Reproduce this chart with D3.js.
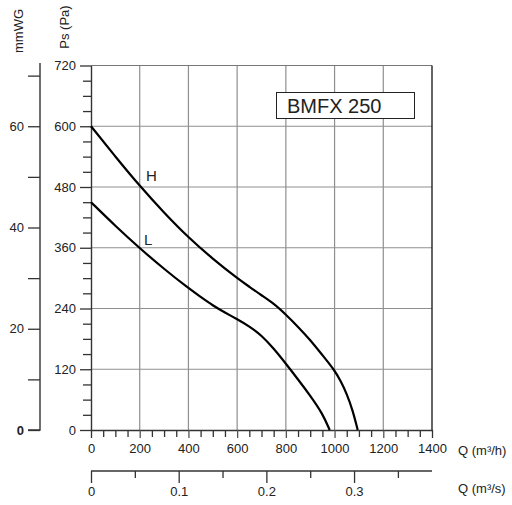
<!DOCTYPE html>
<html><head><meta charset="utf-8">
<script src="https://cdn.jsdelivr.net/npm/d3@7"></script>
<style>
body{margin:0;background:#fff;}
text{font-family:"Liberation Sans",Arial,sans-serif;fill:#222;}
</style></head>
<body><svg id="c" width="512" height="505"></svg>
<script>
// Data
const qH = [0,100,200,300,400,500,600,650,700,750,800,850,900,950,1000,1025,1050,1075,1095];
const psH = [600,540,482,429,380,338,300,283,266,250,228,204,178,148,118,97,72,38,0];
const qL = [0,100,200,300,400,450,500,550,600,650,700,750,800,850,900,950,980];
const psL = [450,403,359,318,280,263,246,232,219,205,187,161,131,100,68,33,0];
const qTicks = [0,200,400,600,800,1000,1200,1400];
const psTicks = [0,120,240,360,480,600,720];
const mmTicks = [0,20,40,60];
const qsTicks = [0,0.1,0.2,0.3];
const modelName = "BMFX 250";

const svg = d3.select("#c");
const x = d3.scaleLinear().domain([0,1400]).range([91,432]);
const y = d3.scaleLinear().domain([0,720]).range([430,65.5]);
const ymm = d3.scaleLinear().domain([0,72]).range([430,65.5]);
const xs = d3.scaleLinear().domain([0,1400/3600]).range([91,432]);

// grid
const grid = svg.append("g").attr("stroke","#8f8f8f").attr("stroke-width",1.2);
qTicks.filter(v=>v>0&&v<1400).forEach(v=>grid.append("line").attr("x1",x(v)).attr("x2",x(v)).attr("y1",y(720)).attr("y2",y(0)));
psTicks.filter(v=>v>0&&v<720).forEach(v=>grid.append("line").attr("x1",x(0)).attr("x2",x(1400)).attr("y1",y(v)).attr("y2",y(v)));
grid.append("line").attr("x1",x(0)).attr("x2",x(1400)).attr("y1",y(720)).attr("y2",y(720)).attr("stroke","#777");
svg.append("line").attr("x1",x(1400)).attr("x2",x(1400)).attr("y1",y(720)).attr("y2",y(0)).attr("stroke","#111").attr("stroke-width",1.3);

function styleAxis(g){
  g.selectAll("path.domain").attr("stroke","#333").attr("stroke-width",1.4);
  g.selectAll(".tick line").attr("stroke","#333").attr("stroke-width",1.3);
  g.selectAll(".tick text").attr("font-size",13).attr("font-family","Liberation Sans, Arial, sans-serif").attr("fill","#222");
}

// Ps axis
const minorPs = d3.range(0,721,30).filter(v=>v%120!==0);
const gPsMin = svg.append("g").attr("transform",`translate(${x(0)},0)`)
  .call(d3.axisLeft(y).tickValues(minorPs).tickSize(8).tickFormat(""));
gPsMin.select("path.domain").remove(); styleAxis(gPsMin);
const gPs = svg.append("g").attr("transform",`translate(${x(0)},0)`)
  .call(d3.axisLeft(y).tickValues(psTicks).tickSize(11).tickSizeOuter(0).tickPadding(4).tickFormat(d3.format("d")));
styleAxis(gPs);

// Q m3/h axis
const minorQ = d3.range(0,1401,50).filter(v=>v%200!==0);
const gQmin = svg.append("g").attr("transform",`translate(0,${y(0)})`)
  .call(d3.axisBottom(x).tickValues(minorQ).tickSize(7).tickFormat(""));
gQmin.select("path.domain").remove(); styleAxis(gQmin);
const gQ = svg.append("g").attr("transform",`translate(0,${y(0)})`)
  .call(d3.axisBottom(x).tickValues(qTicks).tickSize(8).tickSizeOuter(0).tickPadding(6).tickFormat(d3.format("d")));
styleAxis(gQ);
gQ.selectAll(".tick line").filter(d=>d!==0&&d!==1400).attr("stroke","#555");

// mmWG axis
const gmm = svg.append("g").attr("transform","translate(40,0)")
  .call(d3.axisLeft(ymm).tickValues(d3.range(0,71,10)).tickSize(12).tickSizeOuter(0).tickPadding(4)
    .tickFormat(d=>mmTicks.includes(d)?d3.format("d")(d):""));
gmm.select("path.domain").attr("d",`M-12,${ymm(0)}H0V${63}`);
styleAxis(gmm);
gmm.selectAll(".tick text").filter(d=>d===0).attr("font-weight","bold").attr("fill","#000");

// Q m3/s axis
const minorS = [0.05,0.15,0.25,0.35];
const gSmin = svg.append("g").attr("transform","translate(0,471)")
  .call(d3.axisBottom(xs).tickValues(minorS).tickSize(7).tickFormat(""));
gSmin.select("path.domain").remove(); styleAxis(gSmin);
const gS = svg.append("g").attr("transform","translate(0,471)")
  .call(d3.axisBottom(xs).tickValues(qsTicks).tickSize(12).tickSizeOuter(0).tickPadding(4)
    .tickFormat(d=>d===0?"0":d3.format(".1f")(d)));
gS.select("path.domain").attr("d",`M${xs(0)},0H${x(1400)}`);
styleAxis(gS);

// curves
const line = d3.line().x(d=>x(d[0])).y(d=>y(d[1])).curve(d3.curveBasis);
svg.append("path").datum(qH.map((q,i)=>[q,psH[i]])).attr("d",line)
  .attr("fill","none").attr("stroke","#000").attr("stroke-width",2.2);
svg.append("path").datum(qL.map((q,i)=>[q,psL[i]])).attr("d",line)
  .attr("fill","none").attr("stroke","#000").attr("stroke-width",2.2);

svg.append("text").attr("x",146).attr("y",181).attr("font-size",15).text("H");
svg.append("text").attr("x",144).attr("y",245).attr("font-size",15).text("L");

// model box
svg.append("rect").attr("x",276.5).attr("y",92.5).attr("width",138).attr("height",26)
  .attr("fill","#fff").attr("stroke","#222").attr("stroke-width",1);
svg.append("text").attr("x",287).attr("y",113).attr("font-size",20).text(modelName);

// axis titles
svg.append("text").attr("transform","translate(23,31) rotate(-90)").attr("text-anchor","middle").attr("font-size",13).text("mmWG");
svg.append("text").attr("transform","translate(69,27) rotate(-90)").attr("text-anchor","middle").attr("font-size",13).text("Ps (Pa)");
svg.append("text").attr("x",458).attr("y",455).attr("font-size",13).text("Q (m³/h)");
svg.append("text").attr("x",458).attr("y",493).attr("font-size",13).text("Q (m³/s)");
</script></body></html>
